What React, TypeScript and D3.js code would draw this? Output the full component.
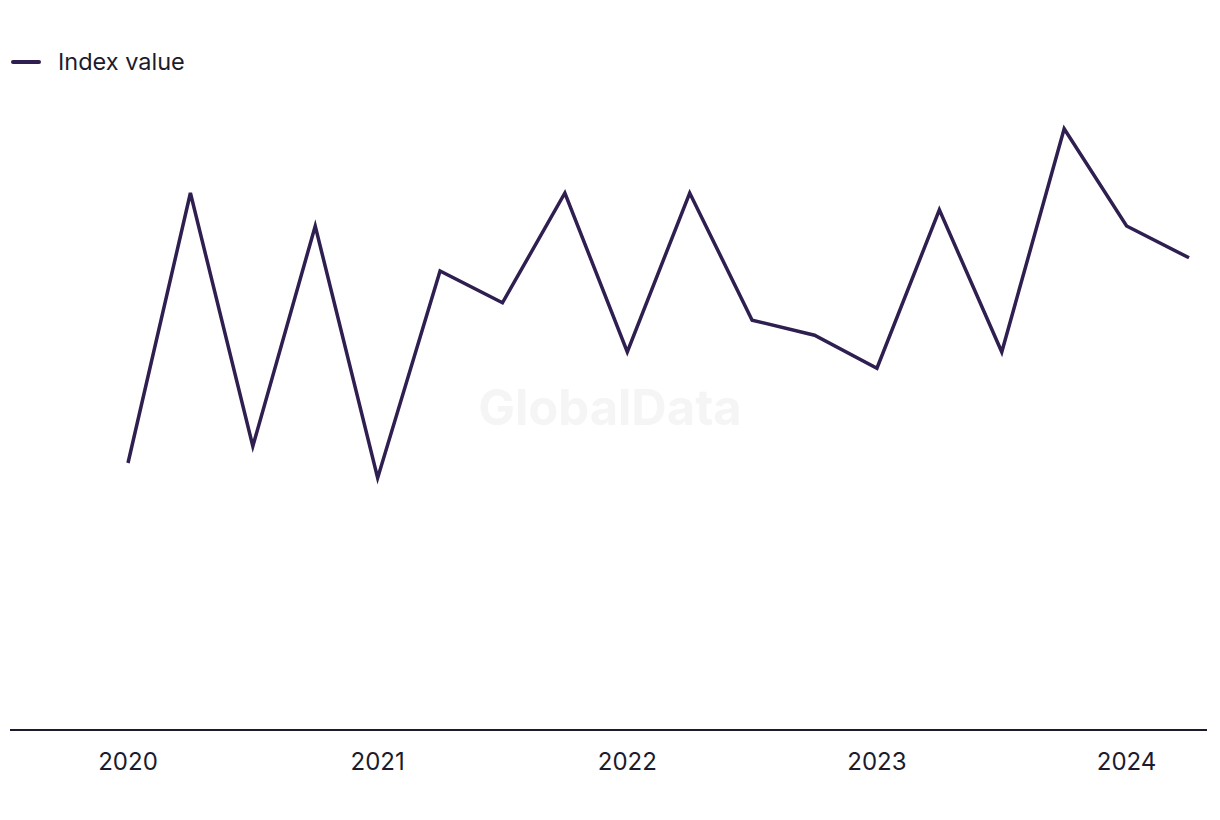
import React from "react";
import * as d3 from "d3";

const quarters = [
  "2020 Q1", "2020 Q2", "2020 Q3", "2020 Q4",
  "2021 Q1", "2021 Q2", "2021 Q3", "2021 Q4",
  "2022 Q1", "2022 Q2", "2022 Q3", "2022 Q4",
  "2023 Q1", "2023 Q2", "2023 Q3", "2023 Q4",
  "2024 Q1", "2024 Q2",
];
const indexValues = [
  44.5, 89.5, 47.3, 84.0, 42.0, 76.5, 71.2, 89.5, 63.0, 89.5,
  68.3, 65.8, 60.3, 86.7, 63.0, 100.2, 84.0, 78.7,
];
const tickQuarters = ["2020 Q1", "2021 Q1", "2022 Q1", "2023 Q1", "2024 Q1"];
const tickLabels = ["2020", "2021", "2022", "2023", "2024"];
const seriesName = "Index value";

const W = 1220;
const H = 820;
const LINE_COLOR = "#2f1e50";
const TEXT_COLOR = "#1c1b2e";
const FONT = "Inter, 'Noto Sans', sans-serif";

export default function App() {
  const x = d3.scalePoint<string>().domain(quarters).range([128, 1189]);
  const y = d3.scaleLinear().domain([0, 100]).range([730, 130]);
  const line = d3
    .line<number>()
    .x((_, i) => x(quarters[i]) as number)
    .y((d) => y(d));

  return (
    <svg
      width={W}
      height={H}
      style={{ position: "absolute", left: 0, top: 0, background: "#fff" }}
    >
      <text
        x={610}
        y={412}
        textAnchor="middle"
        dominantBaseline="middle"
        fontFamily={FONT}
        fontWeight={700}
        fontSize={49}
        fill="#f5f5f5"
      >
        GlobalData
      </text>

      {/* legend */}
      <line
        x1={13}
        x2={39}
        y1={62}
        y2={62}
        stroke={LINE_COLOR}
        strokeWidth={4}
        strokeLinecap="round"
      />
      <text x={58} y={70} fontFamily={FONT} fontSize={23.5} fill={TEXT_COLOR}>
        {seriesName}
      </text>

      {/* axis */}
      <line x1={10} x2={1207} y1={730} y2={730} stroke={TEXT_COLOR} strokeWidth={2} />
      {tickQuarters.map((q, i) => (
        <text
          key={q}
          x={x(q) as number}
          y={770}
          textAnchor="middle"
          fontFamily={FONT}
          fontSize={24}
          fill={TEXT_COLOR}
        >
          {tickLabels[i]}
        </text>
      ))}

      <path
        d={line(indexValues) || ""}
        fill="none"
        stroke={LINE_COLOR}
        strokeWidth={3.5}
        strokeLinejoin="miter"
      />
    </svg>
  );
}
